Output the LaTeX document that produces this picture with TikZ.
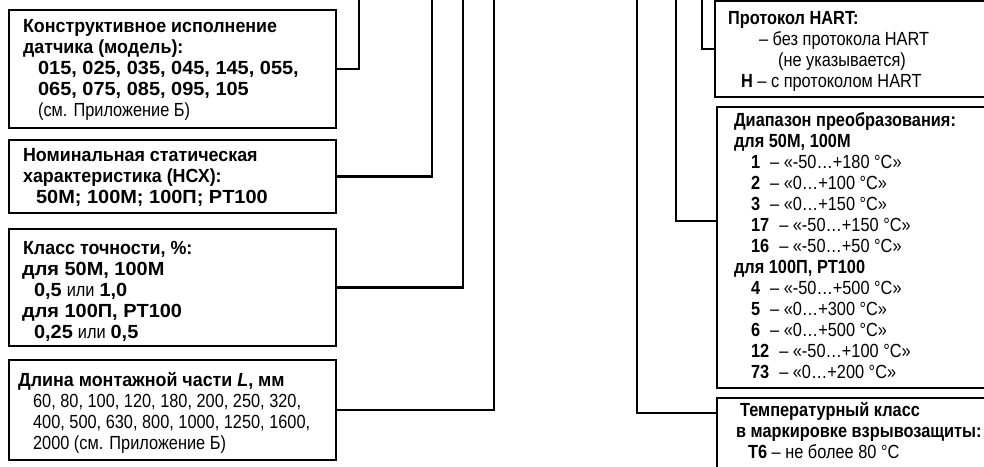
\documentclass[tikz,border=0pt]{standalone}
\usepackage{fontspec}
\setmainfont{Liberation Sans}[FakeStretch=0.94]
\newfontfamily\narrowfont{Liberation Sans}[FakeStretch=0.86]
\newfontfamily\digitfont{Liberation Sans}[FakeStretch=1.05]
\usetikzlibrary{positioning}

% box body: width, height, top gap, lines
\newcommand{\boxbody}[4]{%
  \begin{minipage}[t][#2bp][t]{#1bp}\setlength{\parindent}{0pt}\setlength{\parskip}{0pt}%
  \vspace*{#3bp}#4\end{minipage}}
\newcommand{\entry}[2]{\hspace*{#1bp}\strut#2\par}
\newcommand{\regtext}[1]{{\narrowfont\mdseries #1}}
\newcommand{\numtext}[1]{\textbf{\digitfont #1}}

\begin{document}
\begin{tikzpicture}[x=1bp, y=-1bp,
    infobox/.style={draw, line width=2.2bp, inner sep=0pt, anchor=north west,
      font=\fontsize{19bp}{21bp}\selectfont},
    rightbox/.style={infobox, font=\narrowfont\fontsize{19bp}{21bp}\selectfont},
    link/.style={line width=2.2bp}]
    \useasboundingbox (0,0) rectangle (984,467);
    \clip (0,0) rectangle (984,467);

    % Left column
    \node[infobox] (model) at (8,9) {\boxbody{327}{118}{7.3}{%
        \entry{14}{\textbf{Конструктивное исполнение}}
        \entry{14}{\textbf{датчика (модель):}}
        \entry{29}{\numtext{015, 025, 035, 045, 145, 055,}}
        \entry{29}{\numtext{065, 075, 085, 095, 105}}
        \entry{29}{\regtext{(см. Приложение Б)}}}};

    \node[infobox] (nsx) at (8,139) {\boxbody{327}{73}{6.3}{%
        \entry{14}{\textbf{Номинальная статическая}}
        \entry{14}{\textbf{характеристика (НСХ):}}
        \entry{27}{\numtext{50М; 100М; 100П; PT100}}}};

    \node[infobox] (accuracy) at (8,228) {\boxbody{327}{117}{10.3}{%
        \entry{14}{\textbf{Класс точности, \%:}}
        \entry{13}{\numtext{для 50М, 100М}}
        \entry{25}{\numtext{0,5} \regtext{или} \numtext{1,0}}
        \entry{13}{\numtext{для 100П, PT100}}
        \entry{25}{\numtext{0,25} \regtext{или} \numtext{0,5}}}};

    \node[infobox] (length) at (8,359) {\boxbody{327}{100}{11.3}{%
        \entry{9}{\textbf{Длина монтажной части \textit{L}, мм}}
        \entry{24}{\regtext{60, 80, 100, 120, 180, 200, 250, 320,}}
        \entry{24}{\regtext{400, 500, 630, 800, 1000, 1250, 1600,}}
        \entry{24}{\regtext{2000 (см. Приложение Б)}}}};

    % Right column
    \node[rightbox] (hart) at (714,0) {\boxbody{300}{96}{8.3}{%
        \entry{13}{\textbf{Протокол HART:}}
        \entry{44}{– без протокола HART}
        \entry{63}{(не указывается)}
        \entry{26}{\textbf{H} – с протоколом HART}}};

    \node[rightbox] (range) at (716,106) {\boxbody{300}{281}{4.3}{%
        \entry{17}{\textbf{Диапазон преобразования:}}
        \entry{17}{\textbf{для 50М, 100М}}
        \entry{34}{\textbf{1}\hspace{10bp}– «-50…+180 °C»}
        \entry{34}{\textbf{2}\hspace{10bp}– «0…+100 °C»}
        \entry{34}{\textbf{3}\hspace{10bp}– «0…+150 °C»}
        \entry{34}{\textbf{17}\hspace{10bp}– «-50…+150 °C»}
        \entry{34}{\textbf{16}\hspace{10bp}– «-50…+50 °C»}
        \entry{17}{\textbf{для 100П, PT100}}
        \entry{34}{\textbf{4}\hspace{10bp}– «-50…+500 °C»}
        \entry{34}{\textbf{5}\hspace{10bp}– «0…+300 °C»}
        \entry{34}{\textbf{6}\hspace{10bp}– «0…+500 °C»}
        \entry{34}{\textbf{12}\hspace{10bp}– «-50…+100 °C»}
        \entry{34}{\textbf{73}\hspace{10bp}– «0…+200 °C»}}};

    \node[rightbox] (tclass) at (716,397) {\boxbody{300}{90}{3.3}{%
        \entry{23}{\textbf{Температурный класс}}
        \entry{19}{\textbf{в маркировке взрывозащиты:}}
        \entry{31}{\textbf{Т6} – не более 80 °С}}};

    % Connectors running up to the code line
    \coordinate (upModel) at (359,-3);
    \coordinate (upNsx) at (432,-3);
    \coordinate (upAcc) at (463,-3);
    \coordinate (upLen) at (494,-3);
    \coordinate (upTclass) at (637,-3);
    \coordinate (upRange) at (676,-3);
    \coordinate (upHart) at (702,-3);
    \coordinate (tapRange) at (0,221);
    \coordinate (tapTclass) at (0,413);

    \draw[link] (model.east) -| (upModel);
    \draw[link] (nsx.east) -| (upNsx);
    \draw[link] (accuracy.east) -| (upAcc);
    \draw[link] (length.east) -| (upLen);
    \draw[link] (upHart) |- (hart.west);
    \draw[link] (upRange) |- (range.west |- tapRange);
    \draw[link] (upTclass) |- (tclass.west |- tapTclass);
\end{tikzpicture}
\end{document}
